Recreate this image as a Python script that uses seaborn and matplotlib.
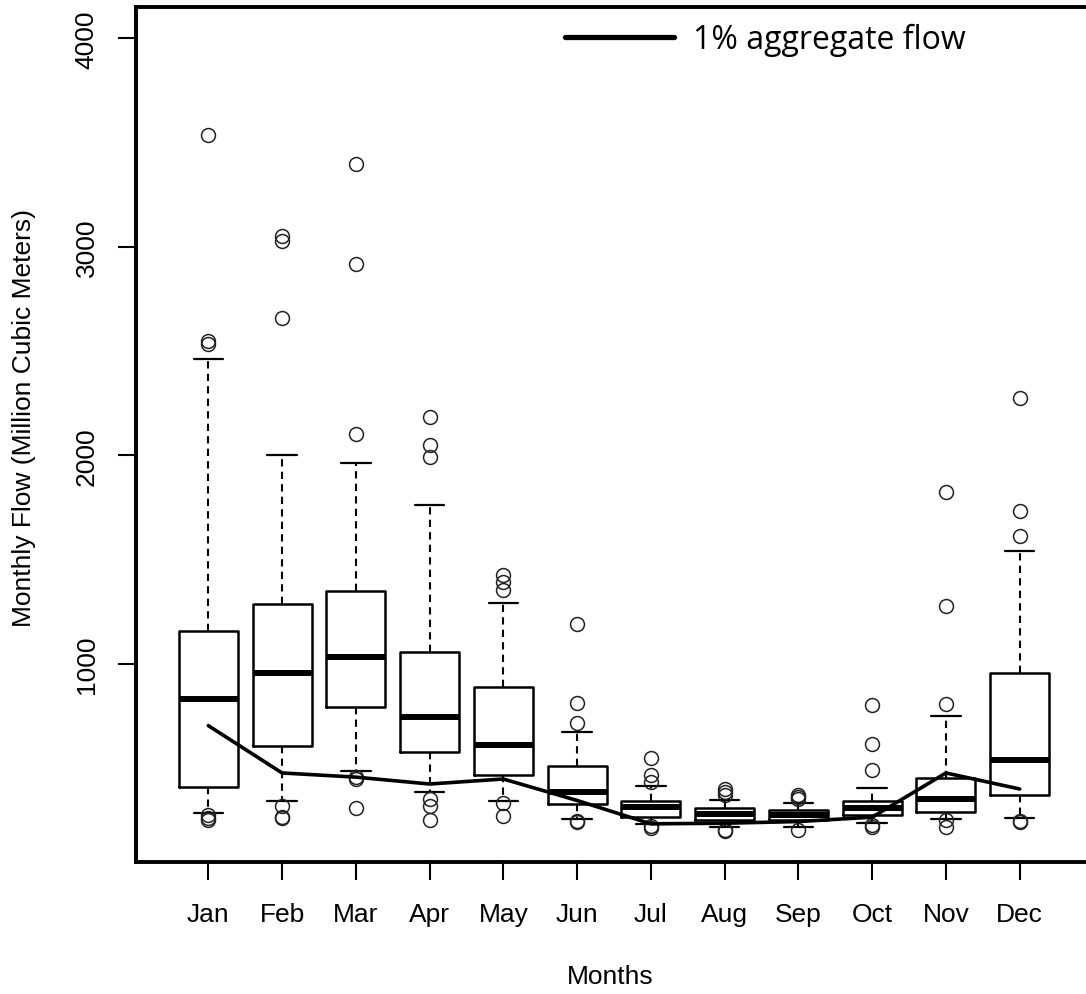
import matplotlib
matplotlib.use("Agg")
import matplotlib.pyplot as plt
import seaborn as sns
import pandas as pd

months = ["Jan", "Feb", "Mar", "Apr", "May", "Jun", "Jul", "Aug", "Sep", "Oct", "Nov", "Dec"]
whisker_low = [285, 343, 484, 385, 344, 257, 233, 220, 220, 237, 257, 260]
q1 = [412, 608, 795, 577, 468, 327, 265, 253, 253, 276, 289, 372]
median = [831, 957, 1035, 743, 613, 388, 313, 281, 276, 308, 353, 541]
q3 = [1159, 1288, 1349, 1059, 888, 509, 344, 308, 300, 344, 452, 957]
whisker_high = [2463, 2004, 1963, 1764, 1294, 675, 415, 348, 332, 404, 752, 1543]
outliers = [
    [3537, 2550, 2535, 275, 262, 250],
    [3054, 3030, 2659, 320, 268, 262],
    [3395, 2918, 2103, 457, 448, 308],
    [2186, 2052, 1991, 353, 318, 253],
    [1424, 1395, 1356, 332, 272],
    [1192, 811, 717, 248, 240],
    [548, 468, 435, 225, 212],
    [400, 385, 370, 205, 200],
    [372, 360, 350, 205],
    [805, 616, 490, 228, 220],
    [1824, 1280, 808, 250, 217],
    [2274, 1732, 1611, 248, 240],
]
aggregate_1pct = [704, 477, 457, 424, 448, 345, 233, 236, 244, 265, 477, 400]

sns.set_style("white")
plt.rcParams["font.family"] = ["Liberation Sans", "DejaVu Sans"]
plt.rcParams["text.color"] = "black"

W, H = 1086, 995
fig = plt.figure(figsize=(W / 100, H / 100), dpi=100)
ax = fig.add_axes([136 / W, 1 - 863 / H, (1092 - 136) / W, (863 - 8) / H])

positions = list(range(1, len(months) + 1))
stats = []
for i, m in enumerate(months):
    stats.append(dict(label=m, whislo=whisker_low[i], q1=q1[i], med=median[i],
                      q3=q3[i], whishi=whisker_high[i], fliers=outliers[i]))

ax.bxp(stats, positions=positions, widths=0.8, capwidths=0.4,
       boxprops=dict(color="black", linewidth=1.8),
       medianprops=dict(color="black", linewidth=4.3, solid_capstyle="butt"),
       whiskerprops=dict(color="black", linewidth=1.5, linestyle=(0, (3.5, 2.5))),
       capprops=dict(color="black", linewidth=1.6),
       flierprops=dict(marker="o", markerfacecolor="none", markeredgecolor="#222222",
                       markersize=10, markeredgewidth=1.1, linestyle="none"),
       manage_ticks=False, zorder=2)

df = pd.DataFrame({"pos": positions, "flow": aggregate_1pct})
sns.lineplot(data=df, x="pos", y="flow", ax=ax, color="black", linewidth=2.6,
             label="1% aggregate flow", zorder=3)

ax.set_xlim(0.02, 12.98)
ax.set_ylim(50, 4150)
ax.set_xticks(positions)
ax.set_xticklabels(months)
ax.set_yticks([1000, 2000, 3000, 4000])
ax.set_yticklabels(["1000", "2000", "3000", "4000"], rotation=90, va="center")
ax.tick_params(axis="both", which="major", direction="out", length=13, width=1.5,
               labelsize=19, colors="black", left=True, bottom=True)
ax.tick_params(axis="x", pad=16)
ax.tick_params(axis="y", pad=14)
for s in ax.spines.values():
    s.set_linewidth(2.8)
    s.set_color("black")

ax.set_xlabel("")
ax.set_ylabel("")
fig.text(610 / W, 1 - 977 / H, "Months", ha="center", va="center", fontsize=19,
         color="black")
fig.text(24 / W, 1 - 418 / H, "Monthly Flow (Million Cubic Meters)", ha="center",
         va="center", rotation=90, fontsize=19, color="black")

leg = ax.legend(loc="upper left", bbox_to_anchor=(565 / W, 1 - 24 / H),
                bbox_transform=fig.transFigure, frameon=False, borderpad=0,
                borderaxespad=0, handlelength=3.4, handletextpad=0.6,
                prop={"family": "Open Sans", "size": 23})
for line in leg.get_lines():
    line.set_linewidth(3.8)
for t in leg.get_texts():
    t.set_color("black")

fig.savefig("out.png", dpi=100, facecolor="white")
